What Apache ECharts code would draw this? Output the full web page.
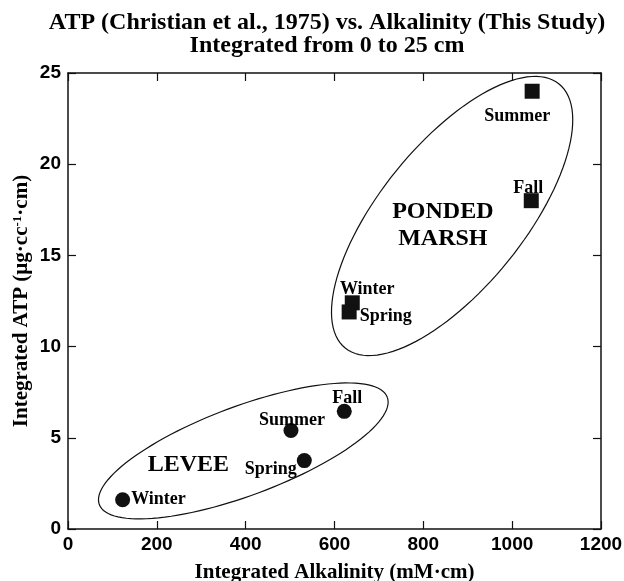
<!DOCTYPE html>
<html>
<head>
<meta charset="utf-8">
<script src="https://cdn.jsdelivr.net/npm/echarts@6/dist/echarts.min.js"></script>
<style>
  html, body { margin: 0; padding: 0; background: #fff; }
  #chart { width: 624px; height: 581px; }
</style>
</head>
<body>
<div id="chart"></div>
<script>
// ponded marsh (squares)
const pondedSeasons = ['Summer', 'Fall', 'Winter', 'Spring']
const pondedAlk = [1045, 1043, 640, 633]
const pondedAtp = [24, 18, 12.4, 11.9]

// levee (circles)
const leveeSeasons = ['Winter', 'Spring', 'Summer', 'Fall']
const leveeAlk = [123, 532, 502, 622]
const leveeAtp = [1.6, 3.75, 5.4, 6.45]

const xTicks = [0, 200, 400, 600, 800, 1000, 1200]
const yTicks = [0, 5, 10, 15, 20, 25]

// group outlines: centre and two conjugate semi-axes, in data units
const pondedEllipse = {c: [864.8, 17.16], u: [240.7, 7.24], v: [-125.8, 2.48]}
const leveeEllipse = {c: [394.7, 4.28], u: [324.2, 2.94], v: [-34.9, 2.29]}

const groupNames = ['PONDED\nMARSH', 'LEVEE']
const groupAt = [[844, 16.64], [271, 3.5]]

// label placement per point (style only)
const pondedLabel = {
  Summer: {position: 'bottom', offset: [-15, 6]},
  Fall: {position: 'top', offset: [-3, 7]},
  Winter: {position: 'top', offset: [15, 6]},
  Spring: {position: 'right', offset: [0, 4]}
}
const leveeLabel = {
  Winter: {position: 'right', offset: [-2, 0]},
  Spring: {position: 'left', offset: [3, 9]},
  Summer: {position: 'top', offset: [1, 9]},
  Fall: {position: 'top', offset: [3, 6]}
}

const serif = '"Liberation Serif", "Times New Roman", serif'
const sans = '"Liberation Sans", Arial, sans-serif'
const ink = '#111'

function pointData(xs, ys, names, place) {
  return xs.map((x, i) => ({
    value: [x, ys[i]],
    name: names[i],
    label: place[names[i]]
  }))
}

function ellipseSeries(e) {
  return {
    type: 'custom',
    silent: true,
    z: 1,
    data: [e.c],
    renderItem: function (params, api) {
      const pts = []
      for (let k = 0; k <= 120; k++) {
        const t = k / 120 * Math.PI * 2
        const c = Math.cos(t), s = Math.sin(t)
        pts.push(api.coord([
          e.c[0] + e.u[0] * c + e.v[0] * s,
          e.c[1] + e.u[1] * c + e.v[1] * s
        ]))
      }
      return {
        type: 'polyline',
        shape: {points: pts},
        style: {stroke: ink, lineWidth: 1.2, fill: null}
      }
    }
  }
}

function axisLine() {
  return {show: true, onZero: false, lineStyle: {color: ink, width: 1.5}}
}
function tick() {
  return {show: true, inside: true, length: 8, lineStyle: {color: ink, width: 1.2}}
}

const chart = echarts.init(document.getElementById('chart'))

const option = {
  backgroundColor: '#fff',
  animation: false,
  title: {
    text: 'ATP (Christian et al., 1975) vs. Alkalinity (This Study)\nIntegrated from 0 to 25 cm',
    left: 322,
    textAlign: 'center',
    top: 6,
    textStyle: {fontFamily: serif, fontWeight: 'bold', fontSize: 24, lineHeight: 23, color: '#000'}
  },
  grid: {left: 68, right: 23, top: 73, bottom: 52, outerBoundsMode: 'none'},
  xAxis: [
    {
      type: 'value', min: 0, max: 1200, interval: 200, position: 'bottom',
      name: 'Integrated Alkalinity (mM·cm)', nameLocation: 'middle', nameGap: 33,
      nameTextStyle: {fontFamily: serif, fontWeight: 'bold', fontSize: 21, color: '#000'},
      axisLine: axisLine(), axisTick: tick(), splitLine: {show: false},
      axisLabel: {fontFamily: sans, fontWeight: 'bold', fontSize: 19, color: '#000', margin: 6,
        formatter: v => xTicks.includes(v) ? String(v) : ''}
    },
    {
      type: 'value', min: 0, max: 1200, interval: 200, position: 'top',
      axisLine: axisLine(), axisTick: tick(), axisLabel: {show: false}, splitLine: {show: false}
    }
  ],
  yAxis: [
    {
      type: 'value', min: 0, max: 25, interval: 5, position: 'left',
      name: 'Integrated ATP (µg·cc{sup|-1}·cm)', nameLocation: 'middle', nameGap: 35, nameRotate: 90,
      nameMoveOverlap: false,
      nameTextStyle: {fontFamily: serif, fontWeight: 'bold', fontSize: 21, color: '#000',
        rich: {sup: {fontFamily: serif, fontWeight: 'bold', fontSize: 13, verticalAlign: 'top', padding: [0, 0, 9, 0]}}},
      axisLine: axisLine(), axisTick: tick(), splitLine: {show: false},
      axisLabel: {fontFamily: sans, fontWeight: 'bold', fontSize: 19, color: '#000', margin: 7,
        formatter: v => yTicks.includes(v) ? String(v) : ''}
    },
    {
      type: 'value', min: 0, max: 25, interval: 5, position: 'right',
      axisLine: axisLine(), axisTick: tick(), axisLabel: {show: false}, splitLine: {show: false}
    }
  ],
  series: [
    ellipseSeries(pondedEllipse),
    ellipseSeries(leveeEllipse),
    {
      name: 'Ponded Marsh',
      type: 'scatter',
      symbol: 'rect',
      symbolSize: 15,
      z: 3,
      itemStyle: {color: ink, opacity: 1},
      label: {show: true, formatter: '{b}', fontFamily: serif, fontWeight: 'bold', fontSize: 18, color: '#000', distance: 3},
      data: pointData(pondedAlk, pondedAtp, pondedSeasons, pondedLabel)
    },
    {
      name: 'Levee',
      type: 'scatter',
      symbol: 'circle',
      symbolSize: 15,
      z: 3,
      itemStyle: {color: ink, opacity: 1},
      label: {show: true, formatter: '{b}', fontFamily: serif, fontWeight: 'bold', fontSize: 18, color: '#000', distance: 3},
      data: pointData(leveeAlk, leveeAtp, leveeSeasons, leveeLabel)
    },
    {
      type: 'scatter',
      symbolSize: 0,
      silent: true,
      z: 2,
      itemStyle: {opacity: 1},
      label: {show: true, position: 'inside', formatter: '{b}', fontFamily: serif, fontWeight: 'bold',
        fontSize: 24, lineHeight: 27, color: '#000', align: 'center', verticalAlign: 'middle'},
      data: groupAt.map((p, i) => ({value: p, name: groupNames[i]}))
    }
  ]
}

chart.setOption(option)
</script>
</body>
</html>
